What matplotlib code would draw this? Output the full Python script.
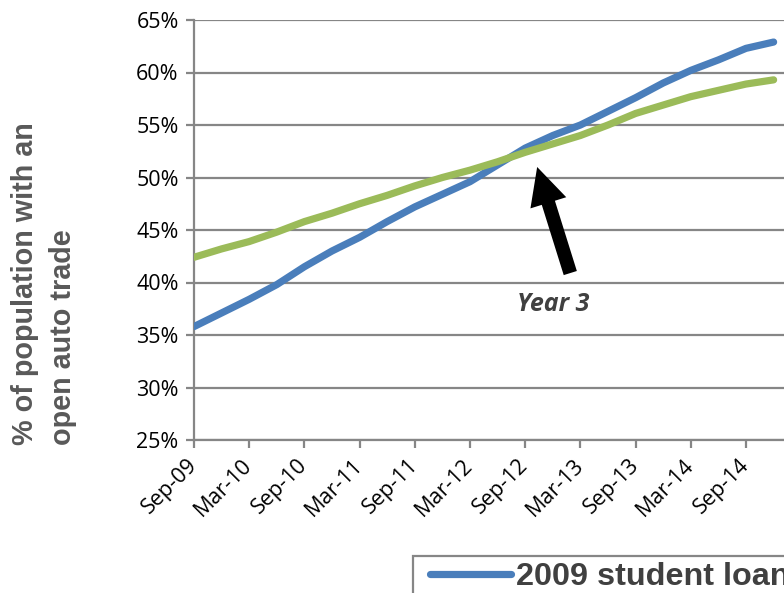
import matplotlib
matplotlib.use("Agg")
import matplotlib.pyplot as plt
from matplotlib.lines import Line2D
from matplotlib.patches import Rectangle
from matplotlib.transforms import ScaledTranslation

# Month offsets from Sep-09 (quarterly readings)
months = [0, 3, 6, 9, 12, 15, 18, 21, 24, 27, 30, 33, 36, 39, 42, 45, 48, 51, 54, 57, 60, 63]
student_loan_2009 = [35.8, 37.1, 38.4, 39.8, 41.5, 43.0, 44.3, 45.8, 47.2, 48.4, 49.6, 51.2,
                     52.8, 54.0, 55.0, 56.3, 57.6, 59.0, 60.2, 61.2, 62.3, 62.9]
comparison_group = [42.4, 43.2, 43.9, 44.8, 45.8, 46.6, 47.5, 48.3, 49.2, 50.0, 50.7, 51.5,
                    52.4, 53.2, 54.0, 55.0, 56.1, 56.9, 57.7, 58.3, 58.9, 59.3]

tick_months = [0, 6, 12, 18, 24, 30, 36, 42, 48, 54, 60]
tick_labels = ["Sep-09", "Mar-10", "Sep-10", "Mar-11", "Sep-11", "Mar-12",
               "Sep-12", "Mar-13", "Sep-13", "Mar-14", "Sep-14"]
y_ticks = [25, 30, 35, 40, 45, 50, 55, 60, 65]

BLUE = "#4A7EBB"
GREEN = "#9BBB59"
GRID = "#868686"

W, H = 784, 593
fig = plt.figure(figsize=(W / 100, H / 100), dpi=100)
px_per_month = 9.2
x_max = 66
ax = fig.add_axes([194 / W, 1 - 440 / H, x_max * px_per_month / W, 420 / H])

ax.plot(months, student_loan_2009, color=BLUE, lw=5.2, solid_capstyle="round", zorder=3)
ax.plot(months, comparison_group, color=GREEN, lw=5.2, solid_capstyle="round", zorder=3)

ax.set_xlim(0, x_max)
ax.set_ylim(25, 65)

ax.set_yticks(y_ticks)
ax.set_yticklabels([f"{v}%" for v in y_ticks], fontfamily="Open Sans", fontsize=15.5, color="black")
ax.set_xticks(tick_months)
ax.set_xticklabels(tick_labels, fontfamily="Open Sans", fontsize=15.5, color="black",
                   rotation=45, ha="right", va="center", rotation_mode="anchor")
shift = ScaledTranslation(10 / 100, -8 / 100, fig.dpi_scale_trans)
for lab in ax.get_xticklabels():
    lab.set_transform(lab.get_transform() + shift)

ax.grid(axis="y", color=GRID, lw=1.6, zorder=1)
ax.set_axisbelow(True)
for side in ("top", "right"):
    ax.spines[side].set_visible(False)
for side in ("left", "bottom"):
    ax.spines[side].set_color(GRID)
    ax.spines[side].set_linewidth(1.6)
    ax.spines[side].set_zorder(2)
ax.tick_params(axis="both", direction="out", length=6, width=1.6, color=GRID)
ax.tick_params(axis="y", pad=5)
ax.tick_params(axis="x", pad=10)

# Axis title, two lines, left-aligned from the bottom of the plot
fig.text(44 / W, 1 - 445 / H, "% of population with an\nopen auto trade", rotation=90,
         ha="center", va="bottom", multialignment="left", linespacing=1.45,
         fontfamily="Liberation Sans", fontweight="bold", fontsize=20.7, color="#595959")

# Annotation arrow pointing at the crossover
ax.annotate("", xy=(37.3, 51.0), xytext=(40.9, 40.9),
            arrowprops=dict(arrowstyle="simple,head_length=1.5,head_width=1.5,tail_width=0.55",
                            color="black", lw=0, mutation_scale=18, shrinkA=0, shrinkB=0),
            zorder=4)
ax.text(39.0, 37.95, "Year 3", fontfamily="Open Sans", fontweight="bold", fontstyle="italic",
        fontsize=18, color="#404040", ha="center", va="center")

# Legend box along the bottom edge
fig.patches.append(Rectangle((413 / W, -0.05), 0.6, (1 - 556 / H) + 0.05,
                             transform=fig.transFigure, facecolor="white",
                             edgecolor=GRID, lw=1.6, zorder=0))
handles = [Line2D([], [], color=BLUE, lw=5.2, solid_capstyle="round")]
leg = fig.legend(handles, ["2009 student loan borrowers"], loc="upper left",
                 bbox_to_anchor=(430 / W, 1 - 562 / H), borderaxespad=0,
                 frameon=False, handlelength=2.5, borderpad=0, handletextpad=0.15,
                 prop={"family": "Liberation Sans", "weight": "bold", "size": 23.3})
for t in leg.get_texts():
    t.set_color("#404040")

fig.savefig("out.png", dpi=100)
